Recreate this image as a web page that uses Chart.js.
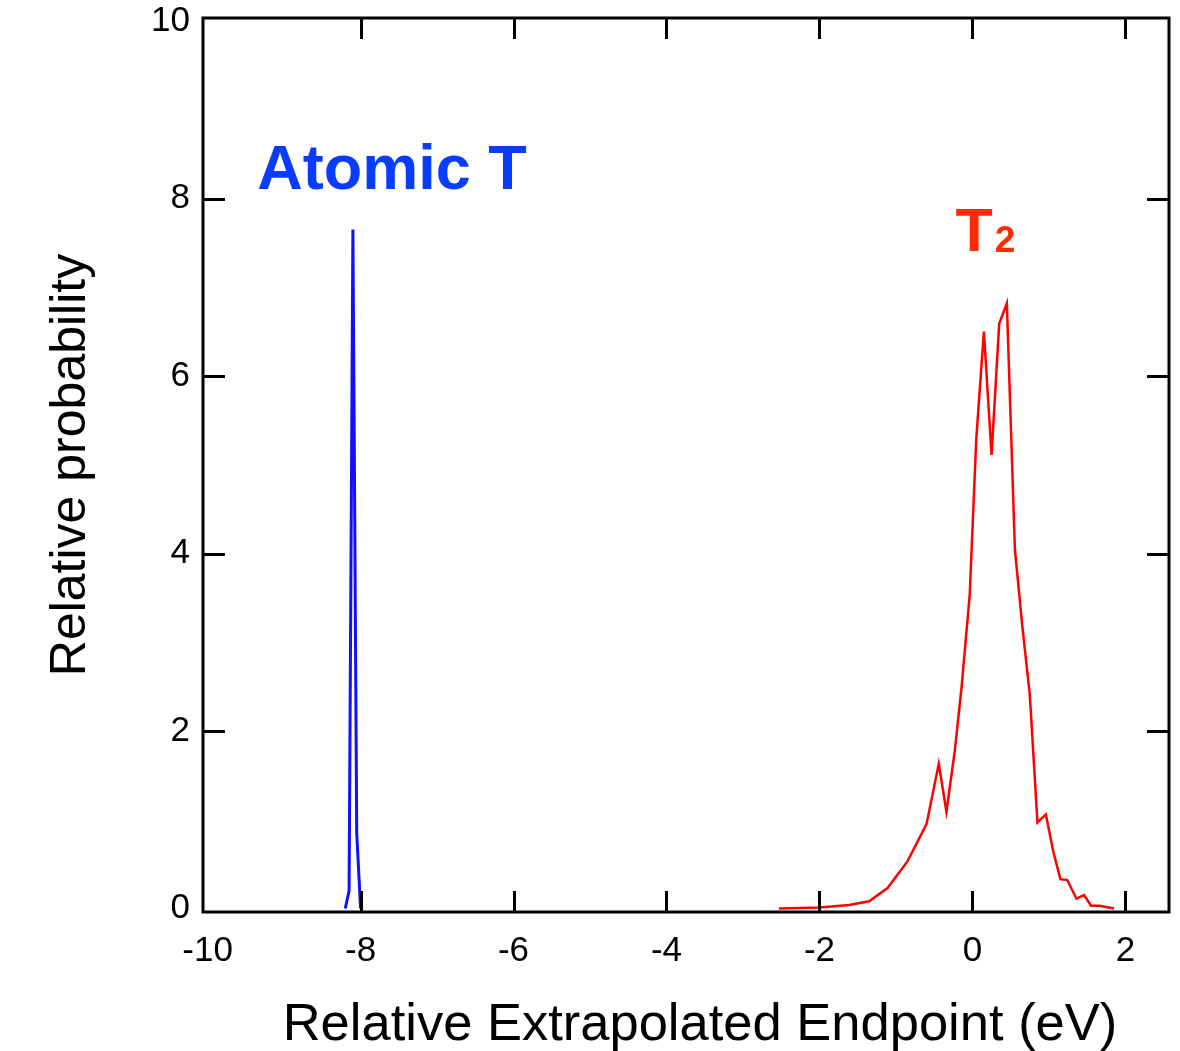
<!DOCTYPE html>
<html>
<head>
<meta charset="utf-8">
<script src="https://cdn.jsdelivr.net/npm/chart.js@4/dist/chart.umd.min.js"></script>
<style>
  html, body { margin: 0; padding: 0; background: #fff; }
  #wrap { width: 1180px; height: 1051px; position: relative; }
</style>
</head>
<body>
<div id="wrap"><canvas id="c" width="1180" height="1051"></canvas></div>
<script>
// ---- data ----
const atomicX = [-8.2, -8.15, -8.1, -8.05, -8.0];
const atomicY = [0, 0.2, 7.65, 0.85, 0];

const moleX = [-2.53, -2.0, -1.61, -1.35, -1.11, -0.85, -0.60, -0.44, -0.34, -0.23, -0.14, -0.035,
               0.05, 0.15, 0.25, 0.35, 0.45, 0.555, 0.65, 0.75, 0.85, 0.96, 1.06, 1.15, 1.24,
               1.36, 1.46, 1.55, 1.66, 1.85];
const moleY = [0, 0.01, 0.04, 0.08, 0.23, 0.53, 0.95, 1.63, 1.09, 1.78, 2.51, 3.54,
               5.29, 6.50, 5.11, 6.59, 6.82, 4.05, 3.2, 2.41, 0.97, 1.06, 0.63, 0.33, 0.32,
               0.11, 0.15, 0.03, 0.03, 0];

const xTicks = [-10, -8, -6, -4, -2, 0, 2];
const yTicks = [0, 2, 4, 6, 8, 10];

const xTitle = 'Relative Extrapolated Endpoint (eV)';
const yTitle = 'Relative probability';
const atomicLabel = 'Atomic T';
const moleLabel = 'T';
const moleSub = '2';
const atomicLabelPos = [-9.35, 8.11];
const moleLabelPos = [-0.22, 7.41];

const toPts = (xs, ys) => xs.map((x, i) => ({x: x, y: ys[i]}));

const frameTicks = {
  id: 'frameTicks',
  afterDatasetsDraw(chart) {
    const {ctx, chartArea: a, scales: {x, y}} = chart;
    ctx.save();
    ctx.strokeStyle = '#000';
    ctx.lineWidth = 3;
    ctx.lineCap = 'butt';
    // inward ticks
    xTicks.forEach(v => {
      const px = Math.round(x.getPixelForValue(v)) + 0.5;
      if (px < a.left + 10 || px > a.right - 10) return;
      ctx.beginPath();
      ctx.moveTo(px, a.bottom); ctx.lineTo(px, a.bottom - 21);
      ctx.moveTo(px, a.top); ctx.lineTo(px, a.top + 21);
      ctx.stroke();
    });
    yTicks.forEach(v => {
      const py = Math.round(y.getPixelForValue(v)) + 0.5;
      if (py < a.top + 10 || py > a.bottom - 10) return;
      ctx.beginPath();
      ctx.moveTo(a.left, py); ctx.lineTo(a.left + 22, py);
      ctx.moveTo(a.right, py); ctx.lineTo(a.right - 22, py);
      ctx.stroke();
    });
    ctx.strokeRect(a.left, a.top, a.right - a.left, a.bottom - a.top);

    // annotations
    ctx.textBaseline = 'alphabetic';
    ctx.textAlign = 'left';
    ctx.fillStyle = '#0a3cff';
    ctx.font = 'bold 63px "Liberation Sans", Arial, sans-serif';
    ctx.fillText(atomicLabel, x.getPixelForValue(atomicLabelPos[0]), y.getPixelForValue(atomicLabelPos[1]));
    ctx.fillStyle = '#ff2a00';
    const tx = x.getPixelForValue(moleLabelPos[0]);
    const ty = y.getPixelForValue(moleLabelPos[1]);
    ctx.font = 'bold 61px "Liberation Sans", Arial, sans-serif';
    ctx.fillText(moleLabel, tx, ty);
    const w = ctx.measureText(moleLabel).width;
    ctx.font = 'bold 37px "Liberation Sans", Arial, sans-serif';
    ctx.fillText(moleSub, tx + w + 2, ty + 1);

    // x axis title
    ctx.fillStyle = '#000';
    ctx.textAlign = 'center';
    ctx.font = '52.5px "Liberation Sans", Arial, sans-serif';
    ctx.fillText(xTitle, (a.left + a.right) / 2 + 14, a.bottom + 128);
    ctx.restore();
  }
};

new Chart(document.getElementById('c'), {
  type: 'line',
  data: {
    datasets: [
      { label: 'Atomic T', data: toPts(atomicX, atomicY), borderColor: '#1010ff', borderWidth: 3,
        pointRadius: 0, tension: 0, fill: false },
      { label: 'T2', data: toPts(moleX, moleY), borderColor: '#ff0000', borderWidth: 2.5,
        pointRadius: 0, tension: 0, fill: false }
    ]
  },
  options: {
    responsive: false,
    animation: false,
    events: [],
    layout: { padding: { top: 18, right: 11, left: 0, bottom: 0 } },
    plugins: { legend: { display: false }, tooltip: { enabled: false } },
    scales: {
      x: {
        type: 'linear', min: -10.06, max: 2.57,
        afterBuildTicks: s => { s.ticks = xTicks.map(v => ({value: v})); },
        afterFit: s => { s.height = 139; s.paddingLeft = 0; s.paddingRight = 0; },
        grid: { display: false, drawTicks: false },
        border: { display: false },
        ticks: { color: '#000', padding: 18, maxRotation: 0, autoSkip: false,
                 font: { family: '"Liberation Sans", Arial, sans-serif', size: 35 } },
        title: { display: false, text: xTitle }
      },
      y: {
        type: 'linear', min: -0.04, max: 10.035,
        afterBuildTicks: s => { s.ticks = yTicks.map(v => ({value: v})); },
        afterFit: s => { s.width = 203; s.paddingTop = 0; s.paddingBottom = 0; },
        grid: { display: false, drawTicks: false },
        border: { display: false },
        ticks: { color: '#000', padding: 13, autoSkip: false,
                 font: { family: '"Liberation Sans", Arial, sans-serif', size: 35 } },
        title: { display: true, text: yTitle, color: '#000',
                 font: { family: '"Liberation Sans", Arial, sans-serif', size: 50 },
                 padding: { top: 41, bottom: 0 } }
      }
    }
  },
  plugins: [frameTicks]
});
</script>
</body>
</html>
